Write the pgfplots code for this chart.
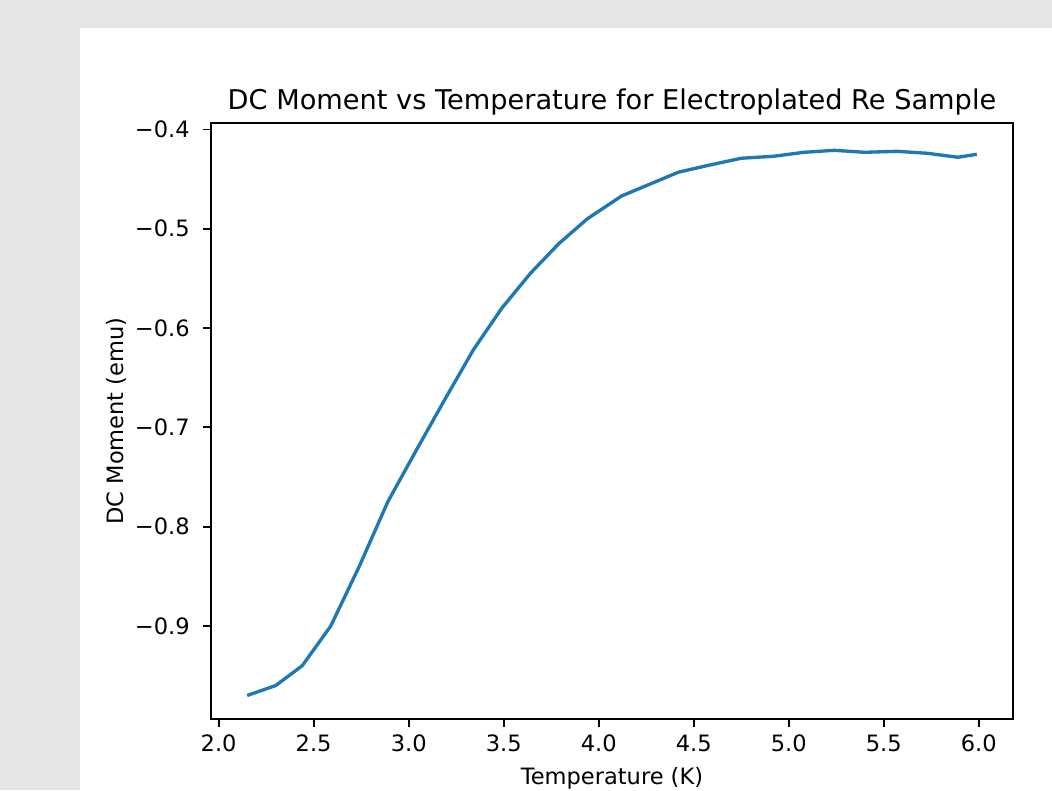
\documentclass[border=0pt]{standalone}
\usepackage{pgfplots}
\pgfplotsset{compat=1.18}
\usepackage{fontspec}
\setmainfont{DejaVu Sans}
\definecolor{mplblue}{HTML}{1F77B4}
\definecolor{bggray}{HTML}{E6E6E6}
\begin{document}
\fontsize{16.9}{20}\selectfont
\begin{tikzpicture}
% 1 px of the reference = 0.75pt
\path[use as bounding box] (0pt,0pt) rectangle (789pt,-592.5pt);
\fill[bggray] (0pt,0pt) rectangle (789pt,-592.5pt);
\fill[white] (60pt,-21pt) rectangle (789pt,-592.5pt);
\begin{axis}[
    at={(158pt,-539.25pt)}, anchor=south west,
    scale only axis,
    width=602pt, height=447pt,
    xmin=1.958, xmax=6.182,
    ymin=-0.9937, ymax=-0.3935,
    xtick={2,2.5,3,3.5,4,4.5,5,5.5,6},
    xticklabels={2.0,2.5,3.0,3.5,4.0,4.5,5.0,5.5,6.0},
    ytick={-0.9,-0.8,-0.7,-0.6,-0.5,-0.4},
    yticklabels={−0.9,−0.8,−0.7,−0.6,−0.5,−0.4},
    tick align=outside,
    major tick length=5.9pt,
    xtick pos=bottom, ytick pos=left,
    every tick/.style={black, line width=1.35pt},
    axis line style={line width=1.35pt},
    tick label style={font=\fontsize{16.9}{20}\selectfont},
    yticklabel style={xshift=-4pt},
    label style={font=\fontsize{16.9}{20}\selectfont},
    xlabel style={yshift=-0.5pt},
    ylabel shift=-5pt,
    title style={font=\fontsize{20.4}{24}\selectfont, yshift=-6pt},
    title={DC Moment vs Temperature for Electroplated Re Sample},
    xlabel={Temperature (K)},
    ylabel={DC Moment (emu)},
    /pgf/number format/assume math mode=true,
]
\addplot[color=mplblue, line width=2.5pt, line join=round] coordinates {
    (2.15,-0.970) (2.30,-0.960) (2.44,-0.940) (2.59,-0.900) (2.74,-0.840)
    (2.89,-0.775) (3.04,-0.723) (3.19,-0.672) (3.34,-0.622) (3.49,-0.580)
    (3.64,-0.545) (3.79,-0.515) (3.94,-0.490) (4.12,-0.467) (4.27,-0.455)
    (4.42,-0.443) (4.58,-0.436) (4.75,-0.429) (4.92,-0.427) (5.08,-0.423)
    (5.24,-0.421) (5.40,-0.423) (5.57,-0.422) (5.73,-0.424) (5.89,-0.428)
    (5.99,-0.425)
};
\end{axis}
\end{tikzpicture}
\end{document}
